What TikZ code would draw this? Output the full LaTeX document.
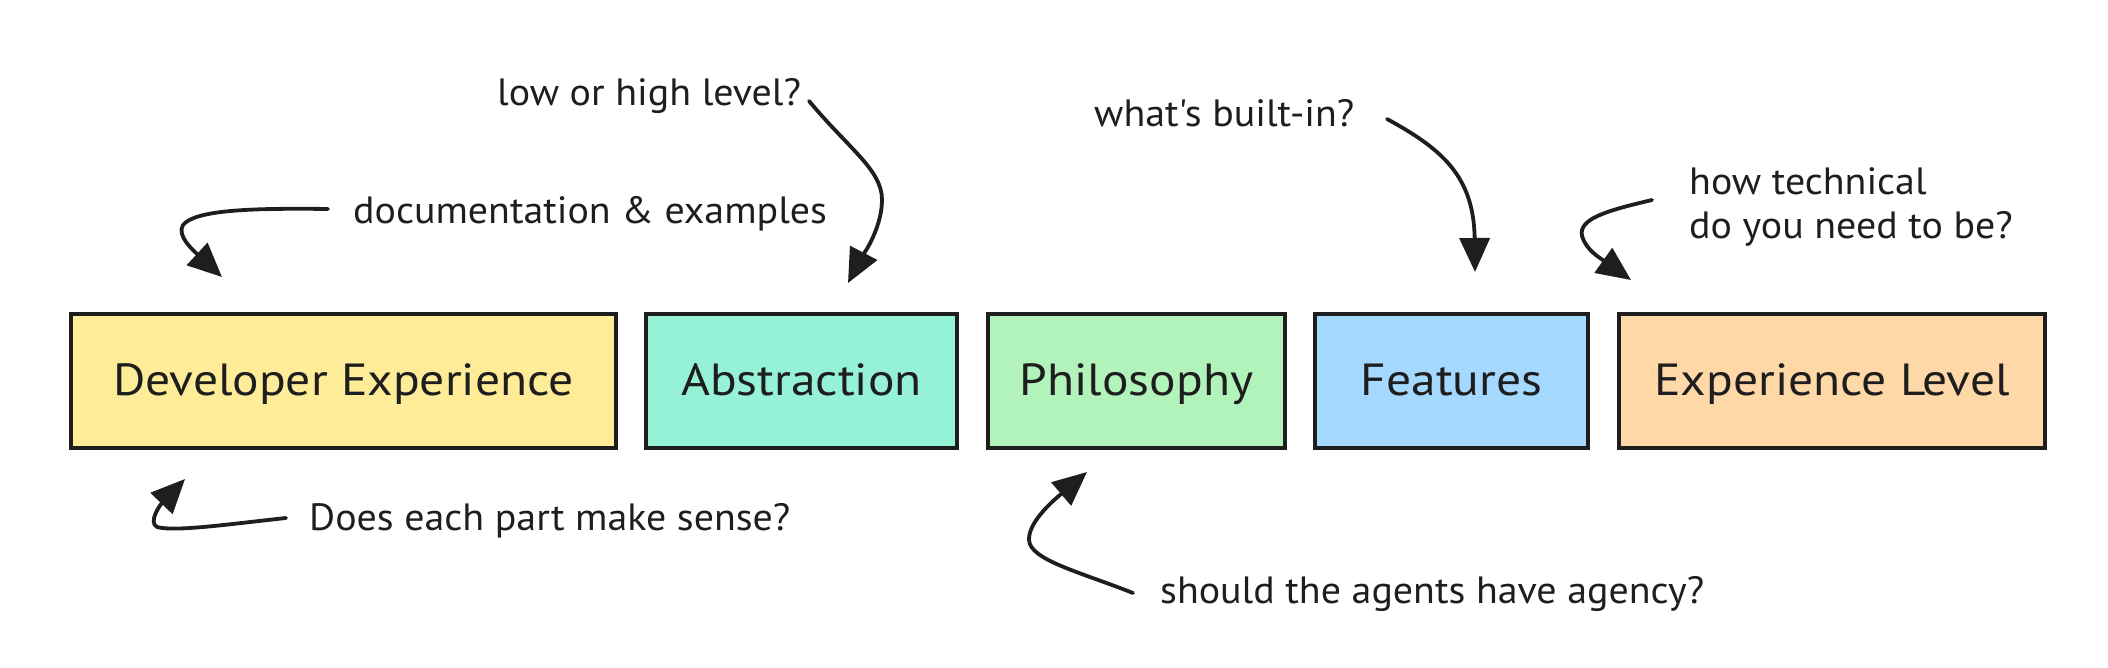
\documentclass[tikz,border=0pt]{standalone}
\usepackage{fontspec}
\setmainfont{PT Sans}
\newfontfamily\boxfont[FakeStretch=1.1]{PT Sans}
\newfontfamily\notefont[FakeStretch=1.05]{PT Sans}
\usetikzlibrary{arrows.meta}
\definecolor{ink}{HTML}{1E1E1E}
\definecolor{cyellow}{HTML}{FFEC99}
\definecolor{cteal}{HTML}{96F2D7}
\definecolor{cgreen}{HTML}{B2F2BB}
\definecolor{cblue}{HTML}{A5D8FF}
\definecolor{corange}{HTML}{FFD8A8}
\begin{document}
\begin{tikzpicture}[x=1pt,y=-1pt,
  box/.style={draw=ink, line width=3.8pt, inner sep=0pt, minimum height=134pt,
    text height=38pt, text depth=10pt,
    font=\boxfont\fontsize{45}{50}\selectfont, text=ink},
  note/.style={font=\notefont\fontsize{38}{44.6}\selectfont, text=ink, inner sep=0pt, anchor=base west},
  arr/.style={draw=ink, line width=3.8pt, line cap=round, line join=round,
    -{Triangle[length=34pt,width=30pt]}}]
\useasboundingbox (0,0) rectangle (2108,668);
\fill[white] (0,0) rectangle (2108,668);
% boxes
\node[box, fill=cyellow, minimum width=545pt] (dev) at (343.5,381) {Developer Experience};
\node[box, fill=cteal, minimum width=311pt] (abs) at (801.5,381) {Abstraction};
\node[box, fill=cgreen, minimum width=297pt] (phi) at (1136.5,381) {Philosophy};
\node[box, fill=cblue, minimum width=273pt] (fea) at (1451.5,381) {Features};
\node[box, fill=corange, minimum width=426pt] (exp) at (1832,381) {Experience Level};
% notes
\node[note] (n1) at (497,106) {low or high level?};
\node[note] (n2) at (353,224) {documentation \& examples};
\node[note] (n3) at (309,530) {Does each part make sense?};
\node[note] (n4) at (1094,127) {what's built-in?};
\node[note, align=left] (n5) at (1689,239) {how technical\\do you need to be?};
\node[note] (n6) at (1160,603) {should the agents have agency?};
% arrow ends
\coordinate (a1s) at (809,101); \coordinate (a1e) at (848,283);
\coordinate (a2s) at (328,209); \coordinate (a2e) at (222,277);
\coordinate (a3s) at (286,518); \coordinate (a3e) at (185,479);
\coordinate (a4s) at (1133,593); \coordinate (a4e) at (1087,472);
\coordinate (a5s) at (1387,119); \coordinate (a5e) at (1475,272);
\coordinate (a6s) at (1652,200); \coordinate (a6e) at (1631,280);
% arrows
\draw[arr] (a1s) .. controls (850,150) and (882,170) .. (882,200)
  .. controls (882,230) and (860,260) .. (a1e);
\draw[arr] (a2s) .. controls (250,208) and (195,210) .. (183,225)
  .. controls (176,236) and (195,252) .. (a2e);
\draw[arr] (a3s) .. controls (230,524) and (175,532) .. (157,527)
  .. controls (148,522) and (160,505) .. (a3e);
\draw[arr] (a4s) .. controls (1080,572) and (1030,560) .. (1029,540)
  .. controls (1028,520) and (1060,495) .. (a4e);
\draw[arr] (a5s) .. controls (1440,148) and (1474,175) .. (a5e);
\draw[arr] (a6s) .. controls (1610,210) and (1578,218) .. (1582,236)
  .. controls (1586,250) and (1600,258) .. (a6e);
\end{tikzpicture}
\end{document}
